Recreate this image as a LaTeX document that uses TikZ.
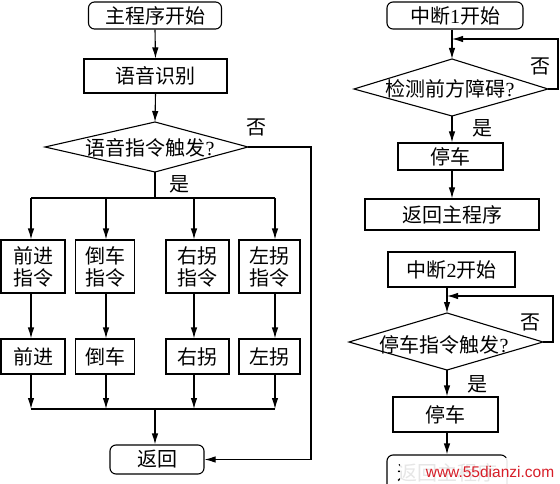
\documentclass[tikz,border=0pt]{standalone}
\usepackage{fontspec}
\setmainfont{Liberation Serif}
\newfontfamily\cjk{Noto Sans CJK SC}
\newfontfamily\wmfont{Liberation Sans}
\usetikzlibrary{arrows.meta}
\begin{document}
\begin{tikzpicture}[x=1pt,y=-1pt,
  txt/.style={font=\cjk\fontsize{20}{22}\selectfont},
  box/.style={draw, line width=1.1pt, inner sep=0pt, txt, align=center},
  rbox/.style={box, rounded corners=6pt},
  arr/.style={-{Latex[length=11pt,width=6.5pt]}, line width=1.1pt},
  ln/.style={line width=1.1pt, line join=miter},
  lbl/.style={txt, inner sep=0pt}]
\useasboundingbox (0,0) rectangle (560,484);
\clip (0,0) rectangle (560,484);

% ---------- main program ----------
\node[rbox, minimum width=133pt, minimum height=27pt] (start) at (155,15.5) {主程序开始};
\node[box, minimum width=143pt, minimum height=34pt] (recog) at (155.5,76) {语音识别};
\coordinate (dl) at (45,147);
\coordinate (dt) at (155,122);
\coordinate (dr) at (248,147);
\coordinate (db) at (155,172);
\draw[ln] (dl) -- (dt) -- (dr) -- (db) -- cycle;
\node[lbl] (dtext) at (150,148) {语音指令触发{\rmfamily ?}};
\node[lbl] (no1) at (256,127) {否};
\node[lbl] (yes1) at (179,184) {是};

\draw[arr] (start.south) -- (recog.north);
\draw[arr] (recog.south) -- (dt);

\coordinate (bus) at (155,198);
\coordinate (c1) at (31,198);
\coordinate (c2) at (106,198);
\coordinate (c3) at (194,198);
\coordinate (c4) at (275,198);
\draw[ln] (db) -- (bus);
\draw[ln] (c1) -- (c4);

\node[box, minimum width=64pt, minimum height=53pt] (b1) at (33,266.5) {前进\\指令};
\node[box, minimum width=59pt, minimum height=53pt] (b2) at (105,266.5) {倒车\\指令};
\node[box, minimum width=63pt, minimum height=53pt] (b3) at (197.5,266.5) {右拐\\指令};
\node[box, minimum width=61pt, minimum height=53pt] (b4) at (269.5,266.5) {左拐\\指令};

\node[box, minimum width=64pt, minimum height=35pt] (m1) at (33,356.5) {前进};
\node[box, minimum width=59pt, minimum height=35pt] (m2) at (105,356.5) {倒车};
\node[box, minimum width=63pt, minimum height=35pt] (m3) at (197.5,356.5) {右拐};
\node[box, minimum width=61pt, minimum height=35pt] (m4) at (269.5,356.5) {左拐};

\draw[arr] (c1) -- (c1 |- b1.north);
\draw[arr] (c2) -- (c2 |- b2.north);
\draw[arr] (c3) -- (c3 |- b3.north);
\draw[arr] (c4) -- (c4 |- b4.north);

\draw[arr] (c1 |- b1.south) -- (c1 |- m1.north);
\draw[arr] (c2 |- b2.south) -- (c2 |- m2.north);
\draw[arr] (c3 |- b3.south) -- (c3 |- m3.north);
\draw[arr] (c4 |- b4.south) -- (c4 |- m4.north);

\coordinate (bus2) at (155,409);
\coordinate (e1) at (31,409);
\coordinate (e2) at (106,409);
\coordinate (e3) at (194,409);
\coordinate (e4) at (275,409);
\draw[arr] (c1 |- m1.south) -- (e1);
\draw[arr] (c2 |- m2.south) -- (e2);
\draw[arr] (c3 |- m3.south) -- (e3);
\draw[arr] (c4 |- m4.south) -- (e4);
\draw[ln] (e1) -- (e4);

\node[rbox, minimum width=94pt, minimum height=29pt] (ret) at (157,459.5) {返回};
\draw[arr] (bus2) -- (bus2 |- ret.north);
\coordinate (nr) at (311,147);
\draw[arr] (dr) -- (nr) -- (nr |- ret.east) -- (ret.east);

% ---------- interrupt 1 ----------
\node[rbox, minimum width=136pt, minimum height=27pt] (i1) at (455,15.5) {中断{\rmfamily 1}开始};
\coordinate (ul) at (354,89);
\coordinate (ut) at (452,59);
\coordinate (ur) at (548,89);
\coordinate (ub) at (452,116);
\draw[ln] (ul) -- (ut) -- (ur) -- (ub) -- cycle;
\node[lbl] (utext) at (450,89) {检测前方障碍{\rmfamily ?}};
\node[lbl] (no2) at (540,66) {否};
\node[lbl] (yes2) at (482,128) {是};
\draw[arr] (ut |- i1.south) -- (ut);
\coordinate (lp1) at (558,89);
\coordinate (lp1t) at (558,39);
\draw[arr] (ur) -- (lp1) -- (lp1t) -- (ut |- lp1t);
\node[box, minimum width=105pt, minimum height=27pt] (s1) at (450.5,156.5) {停车};
\node[box, minimum width=174pt, minimum height=31pt] (r1) at (452,214.5) {返回主程序};
\draw[arr] (ub) -- (ub |- s1.north);
\draw[arr] (ub |- s1.south) -- (ub |- r1.north);

% ---------- interrupt 2 ----------
\node[box, minimum width=127pt, minimum height=35pt] (i2) at (451.5,269.5) {中断{\rmfamily 2}开始};
\coordinate (vl) at (349,342);
\coordinate (vt) at (447,313);
\coordinate (vr) at (543,342);
\coordinate (vb) at (447,370);
\draw[ln] (vl) -- (vt) -- (vr) -- (vb) -- cycle;
\node[lbl] (vtext) at (444,345) {停车指令触发{\rmfamily ?}};
\node[lbl] (no3) at (530,322) {否};
\node[lbl] (yes3) at (477,384) {是};
\draw[arr] (vt |- i2.south) -- (vt);
\coordinate (lp2) at (553,342);
\coordinate (lp2t) at (553,296);
\draw[arr] (vr) -- (lp2) -- (lp2t) -- (vt |- lp2t);
\node[box, minimum width=105pt, minimum height=35pt] (s2) at (445.5,414.5) {停车};
\draw[arr] (vb) -- (vb |- s2.north);
\node[rbox, minimum width=120pt, minimum height=35pt] (fin) at (447,472.5) {返回主程序};
\draw[arr] (vb |- s2.south) -- (vb |- fin.north);

% watermark
\fill[white, opacity=0.9] (400,458) rectangle (560,484);
\node[font=\wmfont\fontsize{15.5}{17}\selectfont, text={rgb,255:red,215;green,30;blue,40}, inner sep=0pt] (wm) at (490,472) {www.55dianzi.com};
\end{tikzpicture}
\end{document}
